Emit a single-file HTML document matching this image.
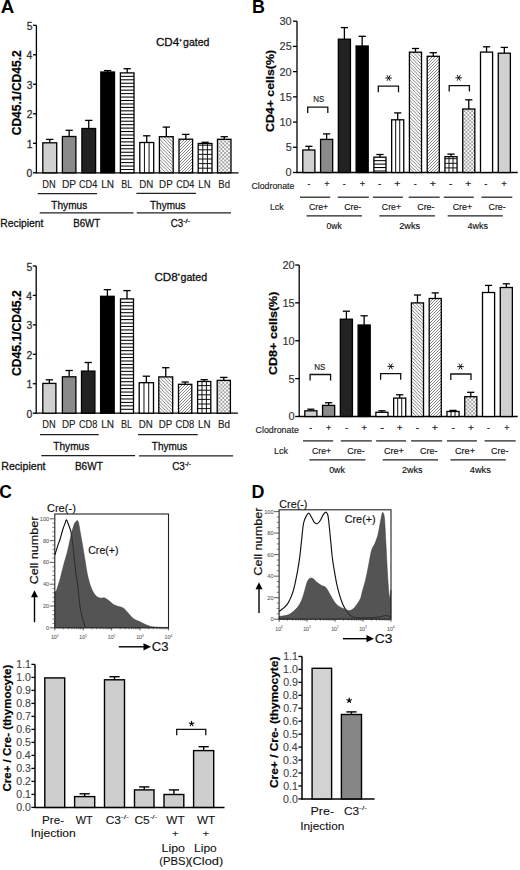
<!DOCTYPE html><html><head><meta charset="utf-8"><style>html,body{margin:0;padding:0;background:#fff;}svg{display:block;}text{font-family:"Liberation Sans",sans-serif;}</style></head><body>
<svg width="520" height="870" viewBox="0 0 520 870">
<defs>
<pattern id="bd" width="3.4" height="3.4" patternUnits="userSpaceOnUse"><rect width="3.4" height="3.4" fill="#fff"/><path d="M-1,-1 L4.4,4.4 M-1,2.4 L1,4.4 M2.4,-1 L4.4,1" stroke="#3a3a3a" stroke-width="0.65"/></pattern>
<pattern id="fd" width="3.0" height="3.0" patternUnits="userSpaceOnUse"><rect width="3" height="3" fill="#fff"/><path d="M-1,4 L4,-1 M-1,1 L1,-1 M2,4 L4,2" stroke="#555" stroke-width="0.7"/></pattern>
<pattern id="gr" width="3.6" height="3.6" patternUnits="userSpaceOnUse"><rect width="3.6" height="3.6" fill="#fff"/><path d="M1.8,0 V3.6 M0,1.8 H3.6" stroke="#111" stroke-width="1"/></pattern>
<pattern id="ch" width="3.8" height="3.8" patternUnits="userSpaceOnUse"><rect width="3.8" height="3.8" fill="#fff"/><rect x="0.25" y="0.25" width="1.4" height="1.4" fill="#555"/><rect x="2.15" y="2.15" width="1.4" height="1.4" fill="#555"/></pattern>
</defs>
<text transform="translate(0.73,12.70) scale(1.0370,1)" font-size="18" font-weight="bold" fill="#000" >A</text>
<text transform="translate(251.94,12.70) scale(0.9937,1)" font-size="18" font-weight="bold" fill="#000" >B</text>
<text transform="translate(-0.70,498.10) scale(0.9669,1)" font-size="18" font-weight="bold" fill="#000" >C</text>
<text transform="translate(251.54,497.70) scale(0.9946,1)" font-size="18" font-weight="bold" fill="#000" >D</text>
<line x1="36.40" y1="173.40" x2="36.40" y2="25.30" stroke="#000" stroke-width="1.3"/>
<line x1="33.00" y1="172.80" x2="36.40" y2="172.80" stroke="#000" stroke-width="1.3"/>
<text transform="translate(26.59,177.40) scale(1.0000,1)" font-size="10.4" fill="#333" stroke="#333" stroke-width="0.3" >0</text>
<line x1="33.00" y1="143.30" x2="36.40" y2="143.30" stroke="#000" stroke-width="1.3"/>
<text transform="translate(26.70,147.90) scale(1.0000,1)" font-size="10.4" fill="#333" stroke="#333" stroke-width="0.3" >1</text>
<line x1="33.00" y1="113.80" x2="36.40" y2="113.80" stroke="#000" stroke-width="1.3"/>
<text transform="translate(26.70,118.40) scale(1.0000,1)" font-size="10.4" fill="#333" stroke="#333" stroke-width="0.3" >2</text>
<line x1="33.00" y1="84.30" x2="36.40" y2="84.30" stroke="#000" stroke-width="1.3"/>
<text transform="translate(26.64,88.90) scale(1.0000,1)" font-size="10.4" fill="#333" stroke="#333" stroke-width="0.3" >3</text>
<line x1="33.00" y1="54.80" x2="36.40" y2="54.80" stroke="#000" stroke-width="1.3"/>
<text transform="translate(26.49,59.40) scale(1.0000,1)" font-size="10.4" fill="#333" stroke="#333" stroke-width="0.3" >4</text>
<line x1="33.00" y1="25.30" x2="36.40" y2="25.30" stroke="#000" stroke-width="1.3"/>
<text transform="translate(26.64,29.90) scale(1.0000,1)" font-size="10.4" fill="#333" stroke="#333" stroke-width="0.3" >5</text>
<line x1="35.80" y1="172.80" x2="238.50" y2="172.80" stroke="#000" stroke-width="1.3"/>
<line x1="49.75" y1="142.80" x2="49.75" y2="139.40" stroke="#000" stroke-width="1.3"/>
<line x1="46.10" y1="139.40" x2="53.40" y2="139.40" stroke="#000" stroke-width="1.3"/>
<rect x="42.80" y="142.80" width="13.90" height="30.00" fill="#d0d0d0" stroke="#000" stroke-width="1.3"/>
<line x1="69.15" y1="136.50" x2="69.15" y2="130.30" stroke="#000" stroke-width="1.3"/>
<line x1="65.50" y1="130.30" x2="72.80" y2="130.30" stroke="#000" stroke-width="1.3"/>
<rect x="62.40" y="136.50" width="13.50" height="36.30" fill="#8a8a8a" stroke="#000" stroke-width="1.3"/>
<line x1="88.75" y1="128.50" x2="88.75" y2="120.40" stroke="#000" stroke-width="1.3"/>
<line x1="85.10" y1="120.40" x2="92.40" y2="120.40" stroke="#000" stroke-width="1.3"/>
<rect x="81.90" y="128.50" width="13.70" height="44.30" fill="#222" stroke="#000" stroke-width="1.3"/>
<line x1="107.65" y1="72.00" x2="107.65" y2="70.60" stroke="#000" stroke-width="1.3"/>
<line x1="104.00" y1="70.60" x2="111.30" y2="70.60" stroke="#000" stroke-width="1.3"/>
<rect x="100.80" y="72.00" width="13.70" height="100.80" fill="#000" stroke="#000" stroke-width="1.3"/>
<line x1="127.20" y1="72.90" x2="127.20" y2="68.70" stroke="#000" stroke-width="1.3"/>
<line x1="123.55" y1="68.70" x2="130.85" y2="68.70" stroke="#000" stroke-width="1.3"/>
<rect x="120.40" y="72.90" width="13.60" height="99.90" fill="#fff" stroke="#000" stroke-width="1.3"/>
<line x1="120.40" y1="76.35" x2="134.00" y2="76.35" stroke="#000" stroke-width="1.05"/>
<line x1="120.40" y1="79.80" x2="134.00" y2="79.80" stroke="#000" stroke-width="1.05"/>
<line x1="120.40" y1="83.25" x2="134.00" y2="83.25" stroke="#000" stroke-width="1.05"/>
<line x1="120.40" y1="86.70" x2="134.00" y2="86.70" stroke="#000" stroke-width="1.05"/>
<line x1="120.40" y1="90.15" x2="134.00" y2="90.15" stroke="#000" stroke-width="1.05"/>
<line x1="120.40" y1="93.60" x2="134.00" y2="93.60" stroke="#000" stroke-width="1.05"/>
<line x1="120.40" y1="97.05" x2="134.00" y2="97.05" stroke="#000" stroke-width="1.05"/>
<line x1="120.40" y1="100.50" x2="134.00" y2="100.50" stroke="#000" stroke-width="1.05"/>
<line x1="120.40" y1="103.95" x2="134.00" y2="103.95" stroke="#000" stroke-width="1.05"/>
<line x1="120.40" y1="107.40" x2="134.00" y2="107.40" stroke="#000" stroke-width="1.05"/>
<line x1="120.40" y1="110.85" x2="134.00" y2="110.85" stroke="#000" stroke-width="1.05"/>
<line x1="120.40" y1="114.30" x2="134.00" y2="114.30" stroke="#000" stroke-width="1.05"/>
<line x1="120.40" y1="117.75" x2="134.00" y2="117.75" stroke="#000" stroke-width="1.05"/>
<line x1="120.40" y1="121.20" x2="134.00" y2="121.20" stroke="#000" stroke-width="1.05"/>
<line x1="120.40" y1="124.65" x2="134.00" y2="124.65" stroke="#000" stroke-width="1.05"/>
<line x1="120.40" y1="128.10" x2="134.00" y2="128.10" stroke="#000" stroke-width="1.05"/>
<line x1="120.40" y1="131.55" x2="134.00" y2="131.55" stroke="#000" stroke-width="1.05"/>
<line x1="120.40" y1="135.00" x2="134.00" y2="135.00" stroke="#000" stroke-width="1.05"/>
<line x1="120.40" y1="138.45" x2="134.00" y2="138.45" stroke="#000" stroke-width="1.05"/>
<line x1="120.40" y1="141.90" x2="134.00" y2="141.90" stroke="#000" stroke-width="1.05"/>
<line x1="120.40" y1="145.35" x2="134.00" y2="145.35" stroke="#000" stroke-width="1.05"/>
<line x1="120.40" y1="148.80" x2="134.00" y2="148.80" stroke="#000" stroke-width="1.05"/>
<line x1="120.40" y1="152.25" x2="134.00" y2="152.25" stroke="#000" stroke-width="1.05"/>
<line x1="120.40" y1="155.70" x2="134.00" y2="155.70" stroke="#000" stroke-width="1.05"/>
<line x1="120.40" y1="159.15" x2="134.00" y2="159.15" stroke="#000" stroke-width="1.05"/>
<line x1="120.40" y1="162.60" x2="134.00" y2="162.60" stroke="#000" stroke-width="1.05"/>
<line x1="120.40" y1="166.05" x2="134.00" y2="166.05" stroke="#000" stroke-width="1.05"/>
<line x1="120.40" y1="169.50" x2="134.00" y2="169.50" stroke="#000" stroke-width="1.05"/>
<line x1="146.75" y1="142.50" x2="146.75" y2="135.80" stroke="#000" stroke-width="1.3"/>
<line x1="143.10" y1="135.80" x2="150.40" y2="135.80" stroke="#000" stroke-width="1.3"/>
<rect x="139.80" y="142.50" width="13.90" height="30.30" fill="#fff" stroke="#000" stroke-width="1.3"/>
<line x1="144.43" y1="142.50" x2="144.43" y2="172.80" stroke="#000" stroke-width="0.95"/>
<line x1="149.07" y1="142.50" x2="149.07" y2="172.80" stroke="#000" stroke-width="0.95"/>
<line x1="166.30" y1="136.70" x2="166.30" y2="127.10" stroke="#000" stroke-width="1.3"/>
<line x1="162.65" y1="127.10" x2="169.95" y2="127.10" stroke="#000" stroke-width="1.3"/>
<rect x="159.40" y="136.70" width="13.80" height="36.10" fill="url(#bd)" stroke="#000" stroke-width="1.3"/>
<line x1="185.80" y1="139.20" x2="185.80" y2="134.40" stroke="#000" stroke-width="1.3"/>
<line x1="182.15" y1="134.40" x2="189.45" y2="134.40" stroke="#000" stroke-width="1.3"/>
<rect x="179.00" y="139.20" width="13.60" height="33.60" fill="url(#fd)" stroke="#000" stroke-width="1.3"/>
<line x1="205.10" y1="143.50" x2="205.10" y2="142.30" stroke="#000" stroke-width="1.3"/>
<line x1="201.45" y1="142.30" x2="208.75" y2="142.30" stroke="#000" stroke-width="1.3"/>
<rect x="198.20" y="143.50" width="13.80" height="29.30" fill="#fff" stroke="#000" stroke-width="1.3"/>
<line x1="202.80" y1="143.50" x2="202.80" y2="172.80" stroke="#111" stroke-width="1.0"/>
<line x1="207.40" y1="143.50" x2="207.40" y2="172.80" stroke="#111" stroke-width="1.0"/>
<line x1="198.20" y1="168.20" x2="212.00" y2="168.20" stroke="#111" stroke-width="1.0"/>
<line x1="198.20" y1="163.60" x2="212.00" y2="163.60" stroke="#111" stroke-width="1.0"/>
<line x1="198.20" y1="159.00" x2="212.00" y2="159.00" stroke="#111" stroke-width="1.0"/>
<line x1="198.20" y1="154.40" x2="212.00" y2="154.40" stroke="#111" stroke-width="1.0"/>
<line x1="198.20" y1="149.80" x2="212.00" y2="149.80" stroke="#111" stroke-width="1.0"/>
<line x1="198.20" y1="145.20" x2="212.00" y2="145.20" stroke="#111" stroke-width="1.0"/>
<line x1="224.25" y1="139.30" x2="224.25" y2="136.70" stroke="#000" stroke-width="1.3"/>
<line x1="220.60" y1="136.70" x2="227.90" y2="136.70" stroke="#000" stroke-width="1.3"/>
<rect x="217.50" y="139.30" width="13.50" height="33.50" fill="url(#ch)" stroke="#000" stroke-width="1.3"/>
<text transform="translate(42.36,187.90) scale(0.8737,1)" font-size="10.6" fill="#222" stroke="#222" stroke-width="0.15" >DN</text>
<text transform="translate(61.93,187.90) scale(0.9659,1)" font-size="10.6" fill="#222" stroke="#222" stroke-width="0.15" >DP</text>
<text transform="translate(78.94,187.90) scale(0.8674,1)" font-size="10.6" fill="#222" stroke="#222" stroke-width="0.15" >CD4</text>
<text transform="translate(101.20,187.90) scale(0.9476,1)" font-size="10.6" fill="#222" stroke="#222" stroke-width="0.15" >LN</text>
<text transform="translate(121.28,187.90) scale(0.8499,1)" font-size="10.6" fill="#222" stroke="#222" stroke-width="0.15" >BL</text>
<text transform="translate(139.32,187.90) scale(0.9177,1)" font-size="10.6" fill="#222" stroke="#222" stroke-width="0.15" >DN</text>
<text transform="translate(159.12,187.90) scale(0.9246,1)" font-size="10.6" fill="#222" stroke="#222" stroke-width="0.15" >DP</text>
<text transform="translate(176.25,187.90) scale(0.8576,1)" font-size="10.6" fill="#222" stroke="#222" stroke-width="0.15" >CD4</text>
<text transform="translate(198.34,187.90) scale(0.9013,1)" font-size="10.6" fill="#222" stroke="#222" stroke-width="0.15" >LN</text>
<text transform="translate(218.34,187.90) scale(0.8997,1)" font-size="10.6" fill="#222" stroke="#222" stroke-width="0.15" >Bd</text>
<line x1="37.75" y1="193.50" x2="97.10" y2="193.50" stroke="#222" stroke-width="1.25"/>
<line x1="136.40" y1="193.30" x2="195.90" y2="193.30" stroke="#222" stroke-width="1.25"/>
<line x1="39.75" y1="212.80" x2="133.50" y2="212.80" stroke="#222" stroke-width="1.25"/>
<line x1="136.75" y1="212.80" x2="231.00" y2="212.80" stroke="#222" stroke-width="1.25"/>
<text transform="translate(51.30,209.00) scale(0.8872,1)" font-size="11.4" fill="#111" stroke="#111" stroke-width="0.3" >Thymus</text>
<text transform="translate(150.00,209.00) scale(0.8772,1)" font-size="11.4" fill="#111" stroke="#111" stroke-width="0.3" >Thymus</text>
<text transform="translate(0.27,227.20) scale(0.9164,1)" font-size="11.3" fill="#111" stroke="#111" stroke-width="0.3" >Recipient</text>
<text transform="translate(73.22,227.20) scale(0.8601,1)" font-size="11.3" fill="#111" stroke="#111" stroke-width="0.3" >B6WT</text>
<text transform="translate(170.81,227.10) scale(0.8588,1)" font-size="11.3" fill="#111" stroke="#111" stroke-width="0.3" >C3</text>
<text transform="translate(183.00,222.50) scale(1.2403,1)" font-size="6.0" fill="#111" stroke="#111" stroke-width="0.3" >-/-</text>
<text transform="translate(155.92,46.25) scale(1.0723,1)" font-size="10.9" fill="#111" stroke="#111" stroke-width="0.3" >CD4</text>
<path d="M179.40,40.25 H181.80 M180.60,38.85 V41.65" stroke="#222" stroke-width="0.8" fill="none"/>
<text transform="translate(183.08,46.25) scale(0.9652,1)" font-size="10.9" fill="#111" stroke="#111" stroke-width="0.3" >gated</text>
<text transform="translate(21.00,135.28) rotate(-90) scale(1.0118,1)" font-size="11.9" font-weight="bold" fill="#000" stroke="#000" stroke-width="0.2">CD45.1/CD45.2</text>
<line x1="36.20" y1="413.80" x2="36.20" y2="265.95" stroke="#000" stroke-width="1.3"/>
<line x1="32.80" y1="413.20" x2="36.20" y2="413.20" stroke="#000" stroke-width="1.3"/>
<text transform="translate(26.39,417.80) scale(1.0000,1)" font-size="10.4" fill="#333" stroke="#333" stroke-width="0.3" >0</text>
<line x1="32.80" y1="383.75" x2="36.20" y2="383.75" stroke="#000" stroke-width="1.3"/>
<text transform="translate(26.50,388.35) scale(1.0000,1)" font-size="10.4" fill="#333" stroke="#333" stroke-width="0.3" >1</text>
<line x1="32.80" y1="354.30" x2="36.20" y2="354.30" stroke="#000" stroke-width="1.3"/>
<text transform="translate(26.50,358.90) scale(1.0000,1)" font-size="10.4" fill="#333" stroke="#333" stroke-width="0.3" >2</text>
<line x1="32.80" y1="324.85" x2="36.20" y2="324.85" stroke="#000" stroke-width="1.3"/>
<text transform="translate(26.44,329.45) scale(1.0000,1)" font-size="10.4" fill="#333" stroke="#333" stroke-width="0.3" >3</text>
<line x1="32.80" y1="295.40" x2="36.20" y2="295.40" stroke="#000" stroke-width="1.3"/>
<text transform="translate(26.29,300.00) scale(1.0000,1)" font-size="10.4" fill="#333" stroke="#333" stroke-width="0.3" >4</text>
<line x1="32.80" y1="265.95" x2="36.20" y2="265.95" stroke="#000" stroke-width="1.3"/>
<text transform="translate(26.44,270.55) scale(1.0000,1)" font-size="10.4" fill="#333" stroke="#333" stroke-width="0.3" >5</text>
<line x1="35.60" y1="413.20" x2="237.90" y2="413.20" stroke="#000" stroke-width="1.3"/>
<line x1="49.35" y1="383.40" x2="49.35" y2="379.80" stroke="#000" stroke-width="1.3"/>
<line x1="45.70" y1="379.80" x2="53.00" y2="379.80" stroke="#000" stroke-width="1.3"/>
<rect x="42.80" y="383.40" width="13.10" height="29.80" fill="#d0d0d0" stroke="#000" stroke-width="1.3"/>
<line x1="69.15" y1="376.80" x2="69.15" y2="370.50" stroke="#000" stroke-width="1.3"/>
<line x1="65.50" y1="370.50" x2="72.80" y2="370.50" stroke="#000" stroke-width="1.3"/>
<rect x="62.40" y="376.80" width="13.50" height="36.40" fill="#8a8a8a" stroke="#000" stroke-width="1.3"/>
<line x1="88.20" y1="371.10" x2="88.20" y2="362.50" stroke="#000" stroke-width="1.3"/>
<line x1="84.55" y1="362.50" x2="91.85" y2="362.50" stroke="#000" stroke-width="1.3"/>
<rect x="81.50" y="371.10" width="13.40" height="42.10" fill="#222" stroke="#000" stroke-width="1.3"/>
<line x1="107.40" y1="296.30" x2="107.40" y2="289.70" stroke="#000" stroke-width="1.3"/>
<line x1="103.75" y1="289.70" x2="111.05" y2="289.70" stroke="#000" stroke-width="1.3"/>
<rect x="100.60" y="296.30" width="13.60" height="116.90" fill="#000" stroke="#000" stroke-width="1.3"/>
<line x1="127.00" y1="298.90" x2="127.00" y2="290.60" stroke="#000" stroke-width="1.3"/>
<line x1="123.35" y1="290.60" x2="130.65" y2="290.60" stroke="#000" stroke-width="1.3"/>
<rect x="120.50" y="298.90" width="13.00" height="114.30" fill="#fff" stroke="#000" stroke-width="1.3"/>
<line x1="120.50" y1="302.35" x2="133.50" y2="302.35" stroke="#000" stroke-width="1.05"/>
<line x1="120.50" y1="305.80" x2="133.50" y2="305.80" stroke="#000" stroke-width="1.05"/>
<line x1="120.50" y1="309.25" x2="133.50" y2="309.25" stroke="#000" stroke-width="1.05"/>
<line x1="120.50" y1="312.70" x2="133.50" y2="312.70" stroke="#000" stroke-width="1.05"/>
<line x1="120.50" y1="316.15" x2="133.50" y2="316.15" stroke="#000" stroke-width="1.05"/>
<line x1="120.50" y1="319.60" x2="133.50" y2="319.60" stroke="#000" stroke-width="1.05"/>
<line x1="120.50" y1="323.05" x2="133.50" y2="323.05" stroke="#000" stroke-width="1.05"/>
<line x1="120.50" y1="326.50" x2="133.50" y2="326.50" stroke="#000" stroke-width="1.05"/>
<line x1="120.50" y1="329.95" x2="133.50" y2="329.95" stroke="#000" stroke-width="1.05"/>
<line x1="120.50" y1="333.40" x2="133.50" y2="333.40" stroke="#000" stroke-width="1.05"/>
<line x1="120.50" y1="336.85" x2="133.50" y2="336.85" stroke="#000" stroke-width="1.05"/>
<line x1="120.50" y1="340.30" x2="133.50" y2="340.30" stroke="#000" stroke-width="1.05"/>
<line x1="120.50" y1="343.75" x2="133.50" y2="343.75" stroke="#000" stroke-width="1.05"/>
<line x1="120.50" y1="347.20" x2="133.50" y2="347.20" stroke="#000" stroke-width="1.05"/>
<line x1="120.50" y1="350.65" x2="133.50" y2="350.65" stroke="#000" stroke-width="1.05"/>
<line x1="120.50" y1="354.10" x2="133.50" y2="354.10" stroke="#000" stroke-width="1.05"/>
<line x1="120.50" y1="357.55" x2="133.50" y2="357.55" stroke="#000" stroke-width="1.05"/>
<line x1="120.50" y1="361.00" x2="133.50" y2="361.00" stroke="#000" stroke-width="1.05"/>
<line x1="120.50" y1="364.45" x2="133.50" y2="364.45" stroke="#000" stroke-width="1.05"/>
<line x1="120.50" y1="367.90" x2="133.50" y2="367.90" stroke="#000" stroke-width="1.05"/>
<line x1="120.50" y1="371.35" x2="133.50" y2="371.35" stroke="#000" stroke-width="1.05"/>
<line x1="120.50" y1="374.80" x2="133.50" y2="374.80" stroke="#000" stroke-width="1.05"/>
<line x1="120.50" y1="378.25" x2="133.50" y2="378.25" stroke="#000" stroke-width="1.05"/>
<line x1="120.50" y1="381.70" x2="133.50" y2="381.70" stroke="#000" stroke-width="1.05"/>
<line x1="120.50" y1="385.15" x2="133.50" y2="385.15" stroke="#000" stroke-width="1.05"/>
<line x1="120.50" y1="388.60" x2="133.50" y2="388.60" stroke="#000" stroke-width="1.05"/>
<line x1="120.50" y1="392.05" x2="133.50" y2="392.05" stroke="#000" stroke-width="1.05"/>
<line x1="120.50" y1="395.50" x2="133.50" y2="395.50" stroke="#000" stroke-width="1.05"/>
<line x1="120.50" y1="398.95" x2="133.50" y2="398.95" stroke="#000" stroke-width="1.05"/>
<line x1="120.50" y1="402.40" x2="133.50" y2="402.40" stroke="#000" stroke-width="1.05"/>
<line x1="120.50" y1="405.85" x2="133.50" y2="405.85" stroke="#000" stroke-width="1.05"/>
<line x1="120.50" y1="409.30" x2="133.50" y2="409.30" stroke="#000" stroke-width="1.05"/>
<line x1="146.35" y1="382.70" x2="146.35" y2="376.20" stroke="#000" stroke-width="1.3"/>
<line x1="142.70" y1="376.20" x2="150.00" y2="376.20" stroke="#000" stroke-width="1.3"/>
<rect x="139.20" y="382.70" width="14.30" height="30.50" fill="#fff" stroke="#000" stroke-width="1.3"/>
<line x1="143.97" y1="382.70" x2="143.97" y2="413.20" stroke="#000" stroke-width="0.95"/>
<line x1="148.73" y1="382.70" x2="148.73" y2="413.20" stroke="#000" stroke-width="0.95"/>
<line x1="165.75" y1="376.90" x2="165.75" y2="367.70" stroke="#000" stroke-width="1.3"/>
<line x1="162.10" y1="367.70" x2="169.40" y2="367.70" stroke="#000" stroke-width="1.3"/>
<rect x="158.80" y="376.90" width="13.90" height="36.30" fill="url(#bd)" stroke="#000" stroke-width="1.3"/>
<line x1="185.15" y1="384.30" x2="185.15" y2="382.00" stroke="#000" stroke-width="1.3"/>
<line x1="181.50" y1="382.00" x2="188.80" y2="382.00" stroke="#000" stroke-width="1.3"/>
<rect x="178.50" y="384.30" width="13.30" height="28.90" fill="url(#fd)" stroke="#000" stroke-width="1.3"/>
<line x1="204.20" y1="381.50" x2="204.20" y2="379.70" stroke="#000" stroke-width="1.3"/>
<line x1="200.55" y1="379.70" x2="207.85" y2="379.70" stroke="#000" stroke-width="1.3"/>
<rect x="197.60" y="381.50" width="13.20" height="31.70" fill="#fff" stroke="#000" stroke-width="1.3"/>
<line x1="202.00" y1="381.50" x2="202.00" y2="413.20" stroke="#111" stroke-width="1.0"/>
<line x1="206.40" y1="381.50" x2="206.40" y2="413.20" stroke="#111" stroke-width="1.0"/>
<line x1="197.60" y1="408.60" x2="210.80" y2="408.60" stroke="#111" stroke-width="1.0"/>
<line x1="197.60" y1="404.00" x2="210.80" y2="404.00" stroke="#111" stroke-width="1.0"/>
<line x1="197.60" y1="399.40" x2="210.80" y2="399.40" stroke="#111" stroke-width="1.0"/>
<line x1="197.60" y1="394.80" x2="210.80" y2="394.80" stroke="#111" stroke-width="1.0"/>
<line x1="197.60" y1="390.20" x2="210.80" y2="390.20" stroke="#111" stroke-width="1.0"/>
<line x1="197.60" y1="385.60" x2="210.80" y2="385.60" stroke="#111" stroke-width="1.0"/>
<line x1="223.80" y1="380.40" x2="223.80" y2="377.40" stroke="#000" stroke-width="1.3"/>
<line x1="220.15" y1="377.40" x2="227.45" y2="377.40" stroke="#000" stroke-width="1.3"/>
<rect x="217.20" y="380.40" width="13.20" height="32.80" fill="url(#ch)" stroke="#000" stroke-width="1.3"/>
<text transform="translate(42.36,428.30) scale(0.8737,1)" font-size="10.6" fill="#222" stroke="#222" stroke-width="0.15" >DN</text>
<text transform="translate(61.97,428.30) scale(0.9208,1)" font-size="10.6" fill="#222" stroke="#222" stroke-width="0.15" >DP</text>
<text transform="translate(78.94,428.30) scale(0.8742,1)" font-size="10.6" fill="#222" stroke="#222" stroke-width="0.15" >CD8</text>
<text transform="translate(101.20,428.30) scale(0.9476,1)" font-size="10.6" fill="#222" stroke="#222" stroke-width="0.15" >LN</text>
<text transform="translate(121.03,428.30) scale(0.8499,1)" font-size="10.6" fill="#222" stroke="#222" stroke-width="0.15" >BL</text>
<text transform="translate(138.72,428.30) scale(0.9177,1)" font-size="10.6" fill="#222" stroke="#222" stroke-width="0.15" >DN</text>
<text transform="translate(158.82,428.30) scale(0.9171,1)" font-size="10.6" fill="#222" stroke="#222" stroke-width="0.15" >DP</text>
<text transform="translate(175.43,428.30) scale(0.8891,1)" font-size="10.6" fill="#222" stroke="#222" stroke-width="0.15" >CD8</text>
<text transform="translate(198.01,428.30) scale(0.9265,1)" font-size="10.6" fill="#222" stroke="#222" stroke-width="0.15" >LN</text>
<text transform="translate(217.91,428.30) scale(0.9347,1)" font-size="10.6" fill="#222" stroke="#222" stroke-width="0.15" >Bd</text>
<line x1="40.00" y1="434.60" x2="98.75" y2="434.60" stroke="#222" stroke-width="1.25"/>
<line x1="138.00" y1="434.60" x2="197.80" y2="434.60" stroke="#222" stroke-width="1.25"/>
<line x1="41.30" y1="455.70" x2="135.10" y2="455.70" stroke="#222" stroke-width="1.25"/>
<line x1="138.90" y1="455.80" x2="233.10" y2="455.80" stroke="#222" stroke-width="1.25"/>
<text transform="translate(53.30,450.20) scale(0.8897,1)" font-size="11.4" fill="#111" stroke="#111" stroke-width="0.3" >Thymus</text>
<text transform="translate(151.80,450.40) scale(0.8747,1)" font-size="11.4" fill="#111" stroke="#111" stroke-width="0.3" >Thymus</text>
<text transform="translate(1.25,470.40) scale(0.9402,1)" font-size="11.3" fill="#111" stroke="#111" stroke-width="0.3" >Recipient</text>
<text transform="translate(74.90,470.30) scale(0.8899,1)" font-size="11.3" fill="#111" stroke="#111" stroke-width="0.3" >B6WT</text>
<text transform="translate(172.21,470.20) scale(0.8738,1)" font-size="11.3" fill="#111" stroke="#111" stroke-width="0.3" >C3</text>
<text transform="translate(184.63,465.60) scale(1.1047,1)" font-size="6.0" fill="#111" stroke="#111" stroke-width="0.3" >-/-</text>
<text transform="translate(154.42,280.60) scale(1.0687,1)" font-size="10.9" fill="#111" stroke="#111" stroke-width="0.3" >CD8</text>
<path d="M177.65,274.60 H180.05 M178.85,273.20 V276.00" stroke="#222" stroke-width="0.8" fill="none"/>
<text transform="translate(180.57,280.60) scale(0.9748,1)" font-size="10.9" fill="#111" stroke="#111" stroke-width="0.3" >gated</text>
<text transform="translate(21.00,375.99) rotate(-90) scale(1.0202,1)" font-size="11.9" font-weight="bold" fill="#000" stroke="#000" stroke-width="0.2">CD45.1/CD45.2</text>
<line x1="297.00" y1="173.10" x2="297.00" y2="21.21" stroke="#000" stroke-width="1.3"/>
<line x1="293.00" y1="172.50" x2="297.00" y2="172.50" stroke="#000" stroke-width="1.3"/>
<text transform="translate(285.58,176.40) scale(1.0000,1)" font-size="11.0" fill="#333" stroke="#333" stroke-width="0.15" >0</text>
<line x1="293.00" y1="147.28" x2="297.00" y2="147.28" stroke="#000" stroke-width="1.3"/>
<text transform="translate(285.63,151.19) scale(1.0000,1)" font-size="11.0" fill="#333" stroke="#333" stroke-width="0.15" >5</text>
<line x1="293.00" y1="122.07" x2="297.00" y2="122.07" stroke="#000" stroke-width="1.3"/>
<text transform="translate(279.48,125.97) scale(1.0000,1)" font-size="11.0" fill="#333" stroke="#333" stroke-width="0.15" >10</text>
<line x1="293.00" y1="96.86" x2="297.00" y2="96.86" stroke="#000" stroke-width="1.3"/>
<text transform="translate(279.53,100.76) scale(1.0000,1)" font-size="11.0" fill="#333" stroke="#333" stroke-width="0.15" >15</text>
<line x1="293.00" y1="71.64" x2="297.00" y2="71.64" stroke="#000" stroke-width="1.3"/>
<text transform="translate(279.48,75.54) scale(1.0000,1)" font-size="11.0" fill="#333" stroke="#333" stroke-width="0.15" >20</text>
<line x1="293.00" y1="46.42" x2="297.00" y2="46.42" stroke="#000" stroke-width="1.3"/>
<text transform="translate(279.53,50.32) scale(1.0000,1)" font-size="11.0" fill="#333" stroke="#333" stroke-width="0.15" >25</text>
<line x1="293.00" y1="21.21" x2="297.00" y2="21.21" stroke="#000" stroke-width="1.3"/>
<text transform="translate(279.48,25.11) scale(1.0000,1)" font-size="11.0" fill="#333" stroke="#333" stroke-width="0.15" >30</text>
<line x1="296.40" y1="172.50" x2="517.70" y2="172.50" stroke="#000" stroke-width="1.3"/>
<line x1="308.85" y1="150.00" x2="308.85" y2="146.30" stroke="#000" stroke-width="1.3"/>
<line x1="305.25" y1="146.30" x2="312.45" y2="146.30" stroke="#000" stroke-width="1.3"/>
<rect x="302.80" y="150.00" width="12.10" height="22.50" fill="#d0d0d0" stroke="#000" stroke-width="1.3"/>
<line x1="326.62" y1="139.40" x2="326.62" y2="133.90" stroke="#000" stroke-width="1.3"/>
<line x1="323.02" y1="133.90" x2="330.22" y2="133.90" stroke="#000" stroke-width="1.3"/>
<rect x="320.57" y="139.40" width="12.10" height="33.10" fill="#8a8a8a" stroke="#000" stroke-width="1.3"/>
<line x1="344.39" y1="39.20" x2="344.39" y2="27.60" stroke="#000" stroke-width="1.3"/>
<line x1="340.79" y1="27.60" x2="347.99" y2="27.60" stroke="#000" stroke-width="1.3"/>
<rect x="338.34" y="39.20" width="12.10" height="133.30" fill="#222" stroke="#000" stroke-width="1.3"/>
<line x1="362.16" y1="46.00" x2="362.16" y2="36.30" stroke="#000" stroke-width="1.3"/>
<line x1="358.56" y1="36.30" x2="365.76" y2="36.30" stroke="#000" stroke-width="1.3"/>
<rect x="356.11" y="46.00" width="12.10" height="126.50" fill="#000" stroke="#000" stroke-width="1.3"/>
<line x1="379.93" y1="157.20" x2="379.93" y2="154.50" stroke="#000" stroke-width="1.3"/>
<line x1="376.33" y1="154.50" x2="383.53" y2="154.50" stroke="#000" stroke-width="1.3"/>
<rect x="373.88" y="157.20" width="12.10" height="15.30" fill="#fff" stroke="#000" stroke-width="1.3"/>
<line x1="373.88" y1="160.65" x2="385.98" y2="160.65" stroke="#000" stroke-width="1.05"/>
<line x1="373.88" y1="164.10" x2="385.98" y2="164.10" stroke="#000" stroke-width="1.05"/>
<line x1="373.88" y1="167.55" x2="385.98" y2="167.55" stroke="#000" stroke-width="1.05"/>
<line x1="373.88" y1="171.00" x2="385.98" y2="171.00" stroke="#000" stroke-width="1.05"/>
<line x1="397.70" y1="119.80" x2="397.70" y2="112.90" stroke="#000" stroke-width="1.3"/>
<line x1="394.10" y1="112.90" x2="401.30" y2="112.90" stroke="#000" stroke-width="1.3"/>
<rect x="391.65" y="119.80" width="12.10" height="52.70" fill="#fff" stroke="#000" stroke-width="1.3"/>
<line x1="395.68" y1="119.80" x2="395.68" y2="172.50" stroke="#000" stroke-width="0.95"/>
<line x1="399.72" y1="119.80" x2="399.72" y2="172.50" stroke="#000" stroke-width="0.95"/>
<line x1="415.47" y1="52.20" x2="415.47" y2="48.50" stroke="#000" stroke-width="1.3"/>
<line x1="411.87" y1="48.50" x2="419.07" y2="48.50" stroke="#000" stroke-width="1.3"/>
<rect x="409.42" y="52.20" width="12.10" height="120.30" fill="url(#bd)" stroke="#000" stroke-width="1.3"/>
<line x1="433.24" y1="56.30" x2="433.24" y2="52.70" stroke="#000" stroke-width="1.3"/>
<line x1="429.64" y1="52.70" x2="436.84" y2="52.70" stroke="#000" stroke-width="1.3"/>
<rect x="427.19" y="56.30" width="12.10" height="116.20" fill="url(#fd)" stroke="#000" stroke-width="1.3"/>
<line x1="451.01" y1="156.70" x2="451.01" y2="154.10" stroke="#000" stroke-width="1.3"/>
<line x1="447.41" y1="154.10" x2="454.61" y2="154.10" stroke="#000" stroke-width="1.3"/>
<rect x="444.96" y="156.70" width="12.10" height="15.80" fill="#fff" stroke="#000" stroke-width="1.3"/>
<line x1="448.99" y1="156.70" x2="448.99" y2="172.50" stroke="#111" stroke-width="1.0"/>
<line x1="453.03" y1="156.70" x2="453.03" y2="172.50" stroke="#111" stroke-width="1.0"/>
<line x1="444.96" y1="167.90" x2="457.06" y2="167.90" stroke="#111" stroke-width="1.0"/>
<line x1="444.96" y1="163.30" x2="457.06" y2="163.30" stroke="#111" stroke-width="1.0"/>
<line x1="444.96" y1="158.70" x2="457.06" y2="158.70" stroke="#111" stroke-width="1.0"/>
<line x1="468.78" y1="109.00" x2="468.78" y2="99.80" stroke="#000" stroke-width="1.3"/>
<line x1="465.18" y1="99.80" x2="472.38" y2="99.80" stroke="#000" stroke-width="1.3"/>
<rect x="462.73" y="109.00" width="12.10" height="63.50" fill="url(#ch)" stroke="#000" stroke-width="1.3"/>
<line x1="486.55" y1="52.10" x2="486.55" y2="46.80" stroke="#000" stroke-width="1.3"/>
<line x1="482.95" y1="46.80" x2="490.15" y2="46.80" stroke="#000" stroke-width="1.3"/>
<rect x="480.50" y="52.10" width="12.10" height="120.40" fill="#fff" stroke="#000" stroke-width="1.3"/>
<line x1="504.32" y1="53.20" x2="504.32" y2="47.40" stroke="#000" stroke-width="1.3"/>
<line x1="500.72" y1="47.40" x2="507.92" y2="47.40" stroke="#000" stroke-width="1.3"/>
<rect x="498.27" y="53.20" width="12.10" height="119.30" fill="#d0d0d0" stroke="#000" stroke-width="1.3"/>
<path d="M307.7,113.1 V107.1 H327.8 V113.1" fill="none" stroke="#111" stroke-width="1.3"/>
<text transform="translate(313.17,102.20) scale(0.8983,1)" font-size="8.8" fill="#222" stroke="#222" stroke-width="0.15" >NS</text>
<path d="M378.3,92.2 V86.2 H398.5 V92.2" fill="none" stroke="#111" stroke-width="1.3"/>
<path d="M385.30,78.00 L391.90,78.00 M386.95,75.14 L390.25,80.86 M390.25,75.14 L386.95,80.86 " stroke="#000" stroke-width="0.9" fill="none"/>
<path d="M449.2,91.6 V85.6 H469.4 V91.6" fill="none" stroke="#111" stroke-width="1.3"/>
<path d="M455.40,77.80 L462.00,77.80 M457.05,74.94 L460.35,80.66 M460.35,74.94 L457.05,80.66 " stroke="#000" stroke-width="0.9" fill="none"/>
<text transform="translate(251.46,189.00) scale(0.9136,1)" font-size="9.6" fill="#222" stroke="#222" stroke-width="0.15" >Clodronate</text>
<text transform="translate(307.56,186.70) scale(0.9130,1)" font-size="9.2" fill="#111" stroke="#111" stroke-width="0.15" >-</text>
<text transform="translate(324.19,187.30) scale(0.9982,1)" font-size="9.2" fill="#111" stroke="#111" stroke-width="0.15" >+</text>
<text transform="translate(342.85,186.70) scale(0.9565,1)" font-size="9.2" fill="#111" stroke="#111" stroke-width="0.15" >-</text>
<text transform="translate(359.78,187.30) scale(1.0204,1)" font-size="9.2" fill="#111" stroke="#111" stroke-width="0.15" >+</text>
<text transform="translate(378.02,186.70) scale(1.0435,1)" font-size="9.2" fill="#111" stroke="#111" stroke-width="0.15" >-</text>
<text transform="translate(394.33,187.30) scale(1.1313,1)" font-size="9.2" fill="#111" stroke="#111" stroke-width="0.15" >+</text>
<text transform="translate(413.65,186.70) scale(0.9565,1)" font-size="9.2" fill="#111" stroke="#111" stroke-width="0.15" >-</text>
<text transform="translate(429.81,187.30) scale(1.1757,1)" font-size="9.2" fill="#111" stroke="#111" stroke-width="0.15" >+</text>
<text transform="translate(449.10,186.70) scale(1.0870,1)" font-size="9.2" fill="#111" stroke="#111" stroke-width="0.15" >-</text>
<text transform="translate(465.34,187.30) scale(1.1091,1)" font-size="9.2" fill="#111" stroke="#111" stroke-width="0.15" >+</text>
<text transform="translate(484.23,186.70) scale(1.0000,1)" font-size="9.2" fill="#111" stroke="#111" stroke-width="0.15" >-</text>
<text transform="translate(501.37,187.30) scale(1.0426,1)" font-size="9.2" fill="#111" stroke="#111" stroke-width="0.15" >+</text>
<line x1="300.00" y1="197.20" x2="330.20" y2="197.20" stroke="#222" stroke-width="1.25"/>
<line x1="337.70" y1="197.20" x2="368.80" y2="197.20" stroke="#222" stroke-width="1.25"/>
<line x1="372.90" y1="197.20" x2="402.90" y2="197.20" stroke="#222" stroke-width="1.25"/>
<line x1="408.70" y1="197.20" x2="439.70" y2="197.20" stroke="#222" stroke-width="1.25"/>
<line x1="443.80" y1="197.20" x2="473.80" y2="197.20" stroke="#222" stroke-width="1.25"/>
<line x1="481.50" y1="197.20" x2="512.30" y2="197.20" stroke="#222" stroke-width="1.25"/>
<text transform="translate(269.89,209.90) scale(0.9066,1)" font-size="9.8" fill="#222" stroke="#222" stroke-width="0.15" >Lck</text>
<text transform="translate(308.96,209.90) scale(0.9195,1)" font-size="9.5" fill="#111" stroke="#111" stroke-width="0.15" >Cre+</text>
<text transform="translate(344.16,209.90) scale(0.9275,1)" font-size="9.5" fill="#111" stroke="#111" stroke-width="0.15" >Cre-</text>
<text transform="translate(381.86,209.90) scale(0.9195,1)" font-size="9.5" fill="#111" stroke="#111" stroke-width="0.15" >Cre+</text>
<text transform="translate(417.15,209.90) scale(0.9445,1)" font-size="9.5" fill="#111" stroke="#111" stroke-width="0.15" >Cre-</text>
<text transform="translate(452.65,209.90) scale(0.9396,1)" font-size="9.5" fill="#111" stroke="#111" stroke-width="0.15" >Cre+</text>
<text transform="translate(488.45,209.90) scale(0.9388,1)" font-size="9.5" fill="#111" stroke="#111" stroke-width="0.15" >Cre-</text>
<line x1="306.60" y1="215.90" x2="362.00" y2="215.90" stroke="#222" stroke-width="1.25"/>
<line x1="379.40" y1="215.90" x2="434.90" y2="215.90" stroke="#222" stroke-width="1.25"/>
<line x1="447.70" y1="215.90" x2="502.80" y2="215.90" stroke="#222" stroke-width="1.25"/>
<text transform="translate(326.40,229.20) scale(0.9278,1)" font-size="9.3" fill="#111" stroke="#111" stroke-width="0.15" >0wk</text>
<text transform="translate(399.14,229.20) scale(0.9895,1)" font-size="9.3" fill="#111" stroke="#111" stroke-width="0.15" >2wks</text>
<text transform="translate(467.52,229.20) scale(0.9665,1)" font-size="9.3" fill="#111" stroke="#111" stroke-width="0.15" >4wks</text>
<text transform="translate(273.60,131.99) rotate(-90) scale(1.1033,1)" font-size="11.2" font-weight="bold" fill="#000" stroke="#000" stroke-width="0.2">CD4+ cells(%)</text>
<line x1="299.20" y1="417.10" x2="299.20" y2="265.00" stroke="#000" stroke-width="1.3"/>
<line x1="295.20" y1="416.50" x2="299.20" y2="416.50" stroke="#000" stroke-width="1.3"/>
<text transform="translate(288.48,420.40) scale(1.0000,1)" font-size="11.0" fill="#333" stroke="#333" stroke-width="0.15" >0</text>
<line x1="295.20" y1="378.62" x2="299.20" y2="378.62" stroke="#000" stroke-width="1.3"/>
<text transform="translate(288.53,382.52) scale(1.0000,1)" font-size="11.0" fill="#333" stroke="#333" stroke-width="0.15" >5</text>
<line x1="295.20" y1="340.75" x2="299.20" y2="340.75" stroke="#000" stroke-width="1.3"/>
<text transform="translate(282.38,344.65) scale(1.0000,1)" font-size="11.0" fill="#333" stroke="#333" stroke-width="0.15" >10</text>
<line x1="295.20" y1="302.88" x2="299.20" y2="302.88" stroke="#000" stroke-width="1.3"/>
<text transform="translate(282.43,306.77) scale(1.0000,1)" font-size="11.0" fill="#333" stroke="#333" stroke-width="0.15" >15</text>
<line x1="295.20" y1="265.00" x2="299.20" y2="265.00" stroke="#000" stroke-width="1.3"/>
<text transform="translate(282.38,268.90) scale(1.0000,1)" font-size="11.0" fill="#333" stroke="#333" stroke-width="0.15" >20</text>
<line x1="298.60" y1="416.50" x2="517.70" y2="416.50" stroke="#000" stroke-width="1.3"/>
<line x1="310.85" y1="410.80" x2="310.85" y2="409.20" stroke="#000" stroke-width="1.3"/>
<line x1="307.25" y1="409.20" x2="314.45" y2="409.20" stroke="#000" stroke-width="1.3"/>
<rect x="304.80" y="410.80" width="12.10" height="5.70" fill="#d0d0d0" stroke="#000" stroke-width="1.3"/>
<line x1="328.62" y1="405.40" x2="328.62" y2="402.70" stroke="#000" stroke-width="1.3"/>
<line x1="325.02" y1="402.70" x2="332.22" y2="402.70" stroke="#000" stroke-width="1.3"/>
<rect x="322.57" y="405.40" width="12.10" height="11.10" fill="#8a8a8a" stroke="#000" stroke-width="1.3"/>
<line x1="346.39" y1="319.20" x2="346.39" y2="311.20" stroke="#000" stroke-width="1.3"/>
<line x1="342.79" y1="311.20" x2="349.99" y2="311.20" stroke="#000" stroke-width="1.3"/>
<rect x="340.34" y="319.20" width="12.10" height="97.30" fill="#222" stroke="#000" stroke-width="1.3"/>
<line x1="364.16" y1="325.00" x2="364.16" y2="315.80" stroke="#000" stroke-width="1.3"/>
<line x1="360.56" y1="315.80" x2="367.76" y2="315.80" stroke="#000" stroke-width="1.3"/>
<rect x="358.11" y="325.00" width="12.10" height="91.50" fill="#000" stroke="#000" stroke-width="1.3"/>
<line x1="381.93" y1="412.30" x2="381.93" y2="410.80" stroke="#000" stroke-width="1.3"/>
<line x1="378.33" y1="410.80" x2="385.53" y2="410.80" stroke="#000" stroke-width="1.3"/>
<rect x="375.88" y="412.30" width="12.10" height="4.20" fill="#fff" stroke="#000" stroke-width="1.3"/>
<line x1="399.70" y1="398.10" x2="399.70" y2="394.80" stroke="#000" stroke-width="1.3"/>
<line x1="396.10" y1="394.80" x2="403.30" y2="394.80" stroke="#000" stroke-width="1.3"/>
<rect x="393.65" y="398.10" width="12.10" height="18.40" fill="#fff" stroke="#000" stroke-width="1.3"/>
<line x1="397.68" y1="398.10" x2="397.68" y2="416.50" stroke="#000" stroke-width="0.95"/>
<line x1="401.72" y1="398.10" x2="401.72" y2="416.50" stroke="#000" stroke-width="0.95"/>
<line x1="417.47" y1="302.90" x2="417.47" y2="295.00" stroke="#000" stroke-width="1.3"/>
<line x1="413.87" y1="295.00" x2="421.07" y2="295.00" stroke="#000" stroke-width="1.3"/>
<rect x="411.42" y="302.90" width="12.10" height="113.60" fill="url(#bd)" stroke="#000" stroke-width="1.3"/>
<line x1="435.24" y1="298.50" x2="435.24" y2="292.90" stroke="#000" stroke-width="1.3"/>
<line x1="431.64" y1="292.90" x2="438.84" y2="292.90" stroke="#000" stroke-width="1.3"/>
<rect x="429.19" y="298.50" width="12.10" height="118.00" fill="url(#fd)" stroke="#000" stroke-width="1.3"/>
<line x1="453.01" y1="411.50" x2="453.01" y2="410.40" stroke="#000" stroke-width="1.3"/>
<line x1="449.41" y1="410.40" x2="456.61" y2="410.40" stroke="#000" stroke-width="1.3"/>
<rect x="446.96" y="411.50" width="12.10" height="5.00" fill="#fff" stroke="#000" stroke-width="1.3"/>
<line x1="450.99" y1="411.50" x2="450.99" y2="416.50" stroke="#111" stroke-width="1.0"/>
<line x1="455.03" y1="411.50" x2="455.03" y2="416.50" stroke="#111" stroke-width="1.0"/>
<line x1="470.78" y1="396.70" x2="470.78" y2="392.30" stroke="#000" stroke-width="1.3"/>
<line x1="467.18" y1="392.30" x2="474.38" y2="392.30" stroke="#000" stroke-width="1.3"/>
<rect x="464.73" y="396.70" width="12.10" height="19.80" fill="url(#ch)" stroke="#000" stroke-width="1.3"/>
<line x1="488.55" y1="292.50" x2="488.55" y2="285.40" stroke="#000" stroke-width="1.3"/>
<line x1="484.95" y1="285.40" x2="492.15" y2="285.40" stroke="#000" stroke-width="1.3"/>
<rect x="482.50" y="292.50" width="12.10" height="124.00" fill="#fff" stroke="#000" stroke-width="1.3"/>
<line x1="506.32" y1="287.50" x2="506.32" y2="283.80" stroke="#000" stroke-width="1.3"/>
<line x1="502.72" y1="283.80" x2="509.92" y2="283.80" stroke="#000" stroke-width="1.3"/>
<rect x="500.27" y="287.50" width="12.10" height="129.00" fill="#d0d0d0" stroke="#000" stroke-width="1.3"/>
<path d="M310.1,380.5 V374.5 H330.6 V380.5" fill="none" stroke="#111" stroke-width="1.3"/>
<text transform="translate(314.25,370.20) scale(0.9163,1)" font-size="8.8" fill="#222" stroke="#222" stroke-width="0.15" >NS</text>
<path d="M380.6,379.7 V373.7 H400.7 V379.7" fill="none" stroke="#111" stroke-width="1.3"/>
<path d="M387.40,366.40 L394.00,366.40 M389.05,363.54 L392.35,369.26 M392.35,363.54 L389.05,369.26 " stroke="#000" stroke-width="0.9" fill="none"/>
<path d="M450.8,380.0 V374.0 H471.0 V380.0" fill="none" stroke="#111" stroke-width="1.3"/>
<path d="M457.20,366.60 L463.80,366.60 M458.85,363.74 L462.15,369.46 M462.15,363.74 L458.85,369.46 " stroke="#000" stroke-width="0.9" fill="none"/>
<text transform="translate(255.56,432.75) scale(0.9223,1)" font-size="9.6" fill="#222" stroke="#222" stroke-width="0.15" >Clodronate</text>
<text transform="translate(309.36,430.60) scale(0.9130,1)" font-size="9.2" fill="#111" stroke="#111" stroke-width="0.15" >-</text>
<text transform="translate(325.90,431.20) scale(0.9760,1)" font-size="9.2" fill="#111" stroke="#111" stroke-width="0.15" >+</text>
<text transform="translate(345.36,430.60) scale(0.9130,1)" font-size="9.2" fill="#111" stroke="#111" stroke-width="0.15" >-</text>
<text transform="translate(361.48,431.20) scale(1.0204,1)" font-size="9.2" fill="#111" stroke="#111" stroke-width="0.15" >+</text>
<text transform="translate(380.34,430.60) scale(1.2609,1)" font-size="9.2" fill="#111" stroke="#111" stroke-width="0.15" >-</text>
<text transform="translate(396.65,431.20) scale(1.0870,1)" font-size="9.2" fill="#111" stroke="#111" stroke-width="0.15" >+</text>
<text transform="translate(415.78,430.60) scale(1.1304,1)" font-size="9.2" fill="#111" stroke="#111" stroke-width="0.15" >-</text>
<text transform="translate(431.82,431.20) scale(1.1535,1)" font-size="9.2" fill="#111" stroke="#111" stroke-width="0.15" >+</text>
<text transform="translate(451.58,430.60) scale(1.1304,1)" font-size="9.2" fill="#111" stroke="#111" stroke-width="0.15" >-</text>
<text transform="translate(468.04,431.20) scale(1.1091,1)" font-size="9.2" fill="#111" stroke="#111" stroke-width="0.15" >+</text>
<text transform="translate(487.06,430.60) scale(0.9130,1)" font-size="9.2" fill="#111" stroke="#111" stroke-width="0.15" >-</text>
<text transform="translate(504.21,431.20) scale(0.9539,1)" font-size="9.2" fill="#111" stroke="#111" stroke-width="0.15" >+</text>
<line x1="303.00" y1="440.90" x2="333.20" y2="440.90" stroke="#222" stroke-width="1.25"/>
<line x1="340.80" y1="440.90" x2="371.80" y2="440.90" stroke="#222" stroke-width="1.25"/>
<line x1="376.10" y1="440.90" x2="406.10" y2="440.90" stroke="#222" stroke-width="1.25"/>
<line x1="411.10" y1="440.90" x2="442.20" y2="440.90" stroke="#222" stroke-width="1.25"/>
<line x1="446.90" y1="440.90" x2="476.90" y2="440.90" stroke="#222" stroke-width="1.25"/>
<line x1="484.60" y1="440.90" x2="515.70" y2="440.90" stroke="#222" stroke-width="1.25"/>
<text transform="translate(274.03,453.75) scale(0.9204,1)" font-size="9.8" fill="#222" stroke="#222" stroke-width="0.15" >Lck</text>
<text transform="translate(312.07,453.50) scale(0.9145,1)" font-size="9.5" fill="#111" stroke="#111" stroke-width="0.15" >Cre+</text>
<text transform="translate(347.35,453.50) scale(0.9445,1)" font-size="9.5" fill="#111" stroke="#111" stroke-width="0.15" >Cre-</text>
<text transform="translate(383.94,453.50) scale(0.9597,1)" font-size="9.5" fill="#111" stroke="#111" stroke-width="0.15" >Cre+</text>
<text transform="translate(420.05,453.50) scale(0.9445,1)" font-size="9.5" fill="#111" stroke="#111" stroke-width="0.15" >Cre-</text>
<text transform="translate(454.94,453.50) scale(0.9647,1)" font-size="9.5" fill="#111" stroke="#111" stroke-width="0.15" >Cre+</text>
<text transform="translate(491.05,453.50) scale(0.9388,1)" font-size="9.5" fill="#111" stroke="#111" stroke-width="0.15" >Cre-</text>
<line x1="309.40" y1="459.80" x2="365.40" y2="459.80" stroke="#222" stroke-width="1.25"/>
<line x1="382.70" y1="459.80" x2="438.10" y2="459.80" stroke="#222" stroke-width="1.25"/>
<line x1="450.50" y1="459.80" x2="505.80" y2="459.80" stroke="#222" stroke-width="1.25"/>
<text transform="translate(329.19,472.90) scale(0.9524,1)" font-size="9.3" fill="#111" stroke="#111" stroke-width="0.15" >0wk</text>
<text transform="translate(402.05,472.90) scale(0.9650,1)" font-size="9.3" fill="#111" stroke="#111" stroke-width="0.15" >2wks</text>
<text transform="translate(469.82,472.90) scale(0.9907,1)" font-size="9.3" fill="#111" stroke="#111" stroke-width="0.15" >4wks</text>
<text transform="translate(277.00,375.10) rotate(-90) scale(1.1237,1)" font-size="11.2" font-weight="bold" fill="#000" stroke="#000" stroke-width="0.2">CD8+ cells(%)</text>
<path d="M54.80,555.00 C55.35,553.27 57.23,547.18 58.10,544.60 C58.97,542.02 59.22,542.02 60.00,539.50 C60.78,536.98 61.97,532.17 62.80,529.50 C63.63,526.83 64.38,525.08 65.00,523.50 C65.62,521.92 65.88,519.58 66.55,520.00 C67.22,520.42 68.31,524.18 69.00,526.00 C69.69,527.82 70.30,529.52 70.70,530.90 C71.10,532.28 70.95,531.20 71.40,534.30 C71.85,537.40 72.83,544.67 73.40,549.50 C73.97,554.33 74.38,559.28 74.80,563.30 C75.22,567.32 75.37,569.60 75.90,573.60 C76.43,577.60 77.37,582.13 78.00,587.30 C78.63,592.47 79.07,599.85 79.70,604.60 C80.33,609.35 81.02,612.48 81.80,615.80 C82.58,619.12 83.82,622.60 84.40,624.50 C84.98,626.40 85.15,626.75 85.30,627.20" fill="none" stroke="#111" stroke-width="1.15"/>
<path d="M54.80,592.00 C55.05,591.80 55.75,591.87 56.30,590.80 C56.85,589.73 57.45,587.62 58.10,585.60 C58.75,583.58 59.48,581.30 60.20,578.70 C60.92,576.10 61.75,572.57 62.40,570.00 C63.05,567.43 63.35,566.03 64.10,563.30 C64.85,560.57 66.08,556.70 66.90,553.60 C67.72,550.50 68.25,548.03 69.00,544.70 C69.75,541.37 70.77,536.25 71.40,533.60 C72.03,530.95 72.28,530.47 72.80,528.80 C73.32,527.13 73.93,524.85 74.50,523.60 C75.07,522.35 75.68,521.78 76.20,521.30 C76.72,520.82 77.17,520.28 77.60,520.70 C78.03,521.12 78.37,521.92 78.80,523.80 C79.23,525.68 79.65,528.87 80.20,532.00 C80.75,535.13 81.50,539.12 82.10,542.60 C82.70,546.08 83.23,549.45 83.80,552.90 C84.37,556.35 84.93,559.85 85.50,563.30 C86.07,566.75 86.43,570.03 87.20,573.60 C87.97,577.17 89.05,581.55 90.10,584.70 C91.15,587.85 92.35,590.48 93.50,592.50 C94.65,594.52 95.78,595.87 97.00,596.80 C98.22,597.73 99.60,597.93 100.80,598.10 C102.00,598.27 103.05,597.52 104.20,597.80 C105.35,598.08 106.73,599.18 107.70,599.80 C108.67,600.42 108.88,600.63 110.00,601.50 C111.12,602.37 112.32,603.97 114.40,605.00 C116.48,606.03 120.70,606.92 122.50,607.70 C124.30,608.48 123.97,608.47 125.20,609.70 C126.43,610.93 128.45,613.53 129.90,615.10 C131.35,616.67 132.22,617.98 133.90,619.10 C135.58,620.22 138.08,620.90 140.00,621.80 C141.92,622.70 143.60,623.72 145.40,624.50 C147.20,625.28 148.57,626.05 150.80,626.50 C153.03,626.95 155.85,627.03 158.80,627.20 C161.75,627.37 166.88,627.45 168.50,627.50 L168.5,627.8 L54.8,627.8 Z" fill="#363636" fill-opacity="0.85" stroke="#3a3a3a" stroke-width="0.5"/>
<rect x="54.8" y="514.0" width="113.7" height="113.79999999999995" fill="none" stroke="#222" stroke-width="1.1"/>
<line x1="49.80" y1="627.80" x2="54.80" y2="627.80" stroke="#333" stroke-width="0.8"/>
<text transform="translate(46.09,629.80) scale(1.0000,1)" font-size="5.6" fill="#666" stroke="#666" stroke-width="0.1" >0</text>
<line x1="52.40" y1="623.44" x2="54.80" y2="623.44" stroke="#333" stroke-width="0.6"/>
<line x1="52.40" y1="619.08" x2="54.80" y2="619.08" stroke="#333" stroke-width="0.6"/>
<line x1="52.40" y1="614.72" x2="54.80" y2="614.72" stroke="#333" stroke-width="0.6"/>
<line x1="52.40" y1="610.36" x2="54.80" y2="610.36" stroke="#333" stroke-width="0.6"/>
<line x1="49.80" y1="606.00" x2="54.80" y2="606.00" stroke="#333" stroke-width="0.8"/>
<text transform="translate(42.98,608.00) scale(1.0000,1)" font-size="5.6" fill="#666" stroke="#666" stroke-width="0.1" >20</text>
<line x1="52.40" y1="601.64" x2="54.80" y2="601.64" stroke="#333" stroke-width="0.6"/>
<line x1="52.40" y1="597.28" x2="54.80" y2="597.28" stroke="#333" stroke-width="0.6"/>
<line x1="52.40" y1="592.92" x2="54.80" y2="592.92" stroke="#333" stroke-width="0.6"/>
<line x1="52.40" y1="588.56" x2="54.80" y2="588.56" stroke="#333" stroke-width="0.6"/>
<line x1="49.80" y1="584.20" x2="54.80" y2="584.20" stroke="#333" stroke-width="0.8"/>
<text transform="translate(42.98,586.20) scale(1.0000,1)" font-size="5.6" fill="#666" stroke="#666" stroke-width="0.1" >40</text>
<line x1="52.40" y1="579.84" x2="54.80" y2="579.84" stroke="#333" stroke-width="0.6"/>
<line x1="52.40" y1="575.48" x2="54.80" y2="575.48" stroke="#333" stroke-width="0.6"/>
<line x1="52.40" y1="571.12" x2="54.80" y2="571.12" stroke="#333" stroke-width="0.6"/>
<line x1="52.40" y1="566.76" x2="54.80" y2="566.76" stroke="#333" stroke-width="0.6"/>
<line x1="49.80" y1="562.40" x2="54.80" y2="562.40" stroke="#333" stroke-width="0.8"/>
<text transform="translate(42.98,564.40) scale(1.0000,1)" font-size="5.6" fill="#666" stroke="#666" stroke-width="0.1" >60</text>
<line x1="52.40" y1="558.04" x2="54.80" y2="558.04" stroke="#333" stroke-width="0.6"/>
<line x1="52.40" y1="553.68" x2="54.80" y2="553.68" stroke="#333" stroke-width="0.6"/>
<line x1="52.40" y1="549.32" x2="54.80" y2="549.32" stroke="#333" stroke-width="0.6"/>
<line x1="52.40" y1="544.96" x2="54.80" y2="544.96" stroke="#333" stroke-width="0.6"/>
<line x1="49.80" y1="540.60" x2="54.80" y2="540.60" stroke="#333" stroke-width="0.8"/>
<text transform="translate(42.98,542.60) scale(1.0000,1)" font-size="5.6" fill="#666" stroke="#666" stroke-width="0.1" >80</text>
<line x1="52.40" y1="536.24" x2="54.80" y2="536.24" stroke="#333" stroke-width="0.6"/>
<line x1="52.40" y1="531.88" x2="54.80" y2="531.88" stroke="#333" stroke-width="0.6"/>
<line x1="52.40" y1="527.52" x2="54.80" y2="527.52" stroke="#333" stroke-width="0.6"/>
<line x1="52.40" y1="523.16" x2="54.80" y2="523.16" stroke="#333" stroke-width="0.6"/>
<line x1="49.80" y1="518.80" x2="54.80" y2="518.80" stroke="#333" stroke-width="0.8"/>
<text transform="translate(39.87,520.80) scale(1.0000,1)" font-size="5.6" fill="#666" stroke="#666" stroke-width="0.1" >100</text>
<line x1="54.80" y1="627.80" x2="54.80" y2="630.40" stroke="#333" stroke-width="0.8"/>
<text transform="translate(50.90,639.30) scale(0.9138,1)" font-size="5.8" fill="#666" stroke="#666" stroke-width="0.1" >10</text>
<text transform="translate(56.79,636.70) scale(0.7732,1)" font-size="4.0" fill="#666" stroke="#666" stroke-width="0.05" >0</text>
<line x1="63.36" y1="627.80" x2="63.36" y2="629.30" stroke="#333" stroke-width="0.6"/>
<line x1="68.36" y1="627.80" x2="68.36" y2="629.30" stroke="#333" stroke-width="0.6"/>
<line x1="71.91" y1="627.80" x2="71.91" y2="629.30" stroke="#333" stroke-width="0.6"/>
<line x1="74.67" y1="627.80" x2="74.67" y2="629.30" stroke="#333" stroke-width="0.6"/>
<line x1="76.92" y1="627.80" x2="76.92" y2="629.30" stroke="#333" stroke-width="0.6"/>
<line x1="78.82" y1="627.80" x2="78.82" y2="629.30" stroke="#333" stroke-width="0.6"/>
<line x1="80.47" y1="627.80" x2="80.47" y2="629.30" stroke="#333" stroke-width="0.6"/>
<line x1="81.92" y1="627.80" x2="81.92" y2="629.30" stroke="#333" stroke-width="0.6"/>
<line x1="83.22" y1="627.80" x2="83.22" y2="630.40" stroke="#333" stroke-width="0.8"/>
<text transform="translate(79.33,639.30) scale(0.9138,1)" font-size="5.8" fill="#666" stroke="#666" stroke-width="0.1" >10</text>
<text transform="translate(85.07,636.70) scale(0.8621,1)" font-size="4.0" fill="#666" stroke="#666" stroke-width="0.05" >1</text>
<line x1="91.78" y1="627.80" x2="91.78" y2="629.30" stroke="#333" stroke-width="0.6"/>
<line x1="96.79" y1="627.80" x2="96.79" y2="629.30" stroke="#333" stroke-width="0.6"/>
<line x1="100.34" y1="627.80" x2="100.34" y2="629.30" stroke="#333" stroke-width="0.6"/>
<line x1="103.09" y1="627.80" x2="103.09" y2="629.30" stroke="#333" stroke-width="0.6"/>
<line x1="105.34" y1="627.80" x2="105.34" y2="629.30" stroke="#333" stroke-width="0.6"/>
<line x1="107.25" y1="627.80" x2="107.25" y2="629.30" stroke="#333" stroke-width="0.6"/>
<line x1="108.90" y1="627.80" x2="108.90" y2="629.30" stroke="#333" stroke-width="0.6"/>
<line x1="110.35" y1="627.80" x2="110.35" y2="629.30" stroke="#333" stroke-width="0.6"/>
<line x1="111.65" y1="627.80" x2="111.65" y2="630.40" stroke="#333" stroke-width="0.8"/>
<text transform="translate(107.75,639.30) scale(0.9138,1)" font-size="5.8" fill="#666" stroke="#666" stroke-width="0.1" >10</text>
<text transform="translate(113.59,636.70) scale(0.8152,1)" font-size="4.0" fill="#666" stroke="#666" stroke-width="0.05" >2</text>
<line x1="120.21" y1="627.80" x2="120.21" y2="629.30" stroke="#333" stroke-width="0.6"/>
<line x1="125.21" y1="627.80" x2="125.21" y2="629.30" stroke="#333" stroke-width="0.6"/>
<line x1="128.76" y1="627.80" x2="128.76" y2="629.30" stroke="#333" stroke-width="0.6"/>
<line x1="131.52" y1="627.80" x2="131.52" y2="629.30" stroke="#333" stroke-width="0.6"/>
<line x1="133.77" y1="627.80" x2="133.77" y2="629.30" stroke="#333" stroke-width="0.6"/>
<line x1="135.67" y1="627.80" x2="135.67" y2="629.30" stroke="#333" stroke-width="0.6"/>
<line x1="137.32" y1="627.80" x2="137.32" y2="629.30" stroke="#333" stroke-width="0.6"/>
<line x1="138.77" y1="627.80" x2="138.77" y2="629.30" stroke="#333" stroke-width="0.6"/>
<line x1="140.07" y1="627.80" x2="140.07" y2="630.40" stroke="#333" stroke-width="0.8"/>
<text transform="translate(136.18,639.30) scale(0.9138,1)" font-size="5.8" fill="#666" stroke="#666" stroke-width="0.1" >10</text>
<text transform="translate(142.07,636.70) scale(0.7812,1)" font-size="4.0" fill="#666" stroke="#666" stroke-width="0.05" >3</text>
<line x1="148.63" y1="627.80" x2="148.63" y2="629.30" stroke="#333" stroke-width="0.6"/>
<line x1="153.64" y1="627.80" x2="153.64" y2="629.30" stroke="#333" stroke-width="0.6"/>
<line x1="157.19" y1="627.80" x2="157.19" y2="629.30" stroke="#333" stroke-width="0.6"/>
<line x1="159.94" y1="627.80" x2="159.94" y2="629.30" stroke="#333" stroke-width="0.6"/>
<line x1="162.19" y1="627.80" x2="162.19" y2="629.30" stroke="#333" stroke-width="0.6"/>
<line x1="164.10" y1="627.80" x2="164.10" y2="629.30" stroke="#333" stroke-width="0.6"/>
<line x1="165.75" y1="627.80" x2="165.75" y2="629.30" stroke="#333" stroke-width="0.6"/>
<line x1="167.20" y1="627.80" x2="167.20" y2="629.30" stroke="#333" stroke-width="0.6"/>
<line x1="168.50" y1="627.80" x2="168.50" y2="630.40" stroke="#333" stroke-width="0.8"/>
<text transform="translate(164.60,639.30) scale(0.9138,1)" font-size="5.8" fill="#666" stroke="#666" stroke-width="0.1" >10</text>
<text transform="translate(170.54,636.70) scale(0.7353,1)" font-size="4.0" fill="#666" stroke="#666" stroke-width="0.05" >4</text>
<text transform="translate(46.95,512.40) scale(1.0432,1)" font-size="10.6" fill="#111" stroke="#111" stroke-width="0.15" >Cre(-)</text>
<text transform="translate(88.17,554.40) scale(1.0033,1)" font-size="10.6" fill="#111" stroke="#111" stroke-width="0.15" >Cre(+)</text>
<text transform="translate(37.60,584.23) rotate(-90) scale(1.1207,1)" font-size="11.2" fill="#111" stroke="#111" stroke-width="0.2">Cell number</text>
<line x1="34.50" y1="622.20" x2="34.50" y2="594.00" stroke="#000" stroke-width="1.4"/>
<path d="M31.0,597.2 L34.5,590.3 L38.0,597.2 Z" fill="#000"/>
<line x1="118.80" y1="646.80" x2="145.00" y2="646.80" stroke="#000" stroke-width="1.4"/>
<path d="M143.5,643.2 L151,646.8 L143.5,650.4 Z" fill="#000"/>
<text transform="translate(151.85,651.30) scale(1.0900,1)" font-size="12" fill="#111" stroke="#111" stroke-width="0.15" >C3</text>
<path d="M279.10,611.60 C280.48,610.35 285.03,607.58 287.40,604.10 C289.77,600.62 291.57,596.43 293.30,590.70 C295.03,584.97 296.68,575.65 297.80,569.70 C298.92,563.75 299.37,559.95 300.00,555.00 C300.63,550.05 301.00,545.33 301.60,540.00 C302.20,534.67 302.78,527.03 303.60,523.00 C304.42,518.97 305.62,517.43 306.50,515.80 C307.38,514.17 308.07,512.97 308.90,513.20 C309.73,513.43 310.58,515.68 311.50,517.20 C312.42,518.72 313.45,521.22 314.40,522.30 C315.35,523.38 316.25,523.95 317.20,523.70 C318.15,523.45 319.13,522.23 320.10,520.80 C321.07,519.37 322.03,516.53 323.00,515.10 C323.97,513.67 325.07,512.08 325.90,512.20 C326.73,512.32 327.40,513.05 328.00,515.80 C328.60,518.55 329.02,524.15 329.50,528.70 C329.98,533.25 330.43,538.30 330.90,543.10 C331.37,547.90 331.70,552.72 332.30,557.50 C332.90,562.28 333.78,567.50 334.50,571.80 C335.22,576.10 335.77,579.47 336.60,583.30 C337.43,587.13 338.42,591.20 339.50,594.80 C340.58,598.40 341.78,602.02 343.10,604.90 C344.42,607.78 345.97,610.18 347.40,612.10 C348.83,614.02 350.02,615.48 351.70,616.40 C353.38,617.32 354.45,617.37 357.50,617.60 C360.55,617.83 366.25,617.93 370.00,617.80 C373.75,617.67 377.33,617.18 380.00,616.80 C382.67,616.42 384.17,615.47 386.00,615.50 C387.83,615.53 390.17,616.75 391.00,617.00" fill="none" stroke="#111" stroke-width="1.15"/>
<path d="M279.10,616.50 C280.73,616.18 286.03,615.92 288.90,614.60 C291.77,613.28 294.45,610.47 296.30,608.60 C298.15,606.73 299.00,605.08 300.00,603.40 C301.00,601.72 301.58,600.40 302.30,598.50 C303.02,596.60 303.48,594.77 304.30,592.00 C305.12,589.23 306.23,584.18 307.20,581.90 C308.17,579.62 309.03,578.78 310.10,578.30 C311.17,577.82 312.42,578.28 313.60,579.00 C314.78,579.72 315.87,581.52 317.20,582.60 C318.53,583.68 320.15,584.67 321.60,585.50 C323.05,586.33 324.47,586.05 325.90,587.60 C327.33,589.15 328.77,592.40 330.20,594.80 C331.63,597.20 333.07,600.08 334.50,602.00 C335.93,603.92 337.37,605.22 338.80,606.30 C340.23,607.38 341.42,607.78 343.10,608.50 C344.78,609.22 347.22,610.55 348.90,610.60 C350.58,610.65 351.77,610.00 353.20,608.80 C354.63,607.60 356.28,605.12 357.50,603.40 C358.72,601.68 359.72,600.40 360.50,598.50 C361.28,596.60 361.32,595.25 362.20,592.00 C363.08,588.75 364.72,583.55 365.80,579.00 C366.88,574.45 367.73,569.48 368.70,564.70 C369.67,559.92 370.53,553.90 371.60,550.30 C372.67,546.70 374.03,545.73 375.10,543.10 C376.17,540.47 377.15,537.85 378.00,534.50 C378.85,531.15 379.55,526.35 380.20,523.00 C380.85,519.65 381.43,516.13 381.90,514.40 C382.37,512.67 382.57,511.88 383.00,512.60 C383.43,513.32 384.02,513.62 384.50,518.70 C384.98,523.78 385.42,534.25 385.90,543.10 C386.38,551.95 386.92,563.65 387.40,571.80 C387.88,579.95 388.37,587.68 388.80,592.00 C389.23,596.32 389.63,598.03 390.00,597.70 C390.37,597.37 390.83,591.28 391.00,590.00 L391.0,619.2 L279.1,619.2 Z" fill="#363636" fill-opacity="0.85" stroke="#3a3a3a" stroke-width="0.5"/>
<rect x="279.1" y="509.8" width="111.89999999999998" height="109.40000000000003" fill="none" stroke="#222" stroke-width="1.1"/>
<line x1="274.10" y1="619.20" x2="279.10" y2="619.20" stroke="#333" stroke-width="0.8"/>
<text transform="translate(270.39,621.20) scale(1.0000,1)" font-size="5.6" fill="#666" stroke="#666" stroke-width="0.1" >0</text>
<line x1="276.70" y1="613.82" x2="279.10" y2="613.82" stroke="#333" stroke-width="0.6"/>
<line x1="276.70" y1="608.44" x2="279.10" y2="608.44" stroke="#333" stroke-width="0.6"/>
<line x1="276.70" y1="603.06" x2="279.10" y2="603.06" stroke="#333" stroke-width="0.6"/>
<line x1="274.10" y1="597.68" x2="279.10" y2="597.68" stroke="#333" stroke-width="0.8"/>
<text transform="translate(267.28,599.68) scale(1.0000,1)" font-size="5.6" fill="#666" stroke="#666" stroke-width="0.1" >20</text>
<line x1="276.70" y1="592.30" x2="279.10" y2="592.30" stroke="#333" stroke-width="0.6"/>
<line x1="276.70" y1="586.92" x2="279.10" y2="586.92" stroke="#333" stroke-width="0.6"/>
<line x1="276.70" y1="581.54" x2="279.10" y2="581.54" stroke="#333" stroke-width="0.6"/>
<line x1="274.10" y1="576.16" x2="279.10" y2="576.16" stroke="#333" stroke-width="0.8"/>
<text transform="translate(267.28,578.16) scale(1.0000,1)" font-size="5.6" fill="#666" stroke="#666" stroke-width="0.1" >40</text>
<line x1="276.70" y1="570.78" x2="279.10" y2="570.78" stroke="#333" stroke-width="0.6"/>
<line x1="276.70" y1="565.40" x2="279.10" y2="565.40" stroke="#333" stroke-width="0.6"/>
<line x1="276.70" y1="560.02" x2="279.10" y2="560.02" stroke="#333" stroke-width="0.6"/>
<line x1="274.10" y1="554.64" x2="279.10" y2="554.64" stroke="#333" stroke-width="0.8"/>
<text transform="translate(267.28,556.64) scale(1.0000,1)" font-size="5.6" fill="#666" stroke="#666" stroke-width="0.1" >60</text>
<line x1="276.70" y1="549.26" x2="279.10" y2="549.26" stroke="#333" stroke-width="0.6"/>
<line x1="276.70" y1="543.88" x2="279.10" y2="543.88" stroke="#333" stroke-width="0.6"/>
<line x1="276.70" y1="538.50" x2="279.10" y2="538.50" stroke="#333" stroke-width="0.6"/>
<line x1="274.10" y1="533.12" x2="279.10" y2="533.12" stroke="#333" stroke-width="0.8"/>
<text transform="translate(267.28,535.12) scale(1.0000,1)" font-size="5.6" fill="#666" stroke="#666" stroke-width="0.1" >80</text>
<line x1="276.70" y1="527.74" x2="279.10" y2="527.74" stroke="#333" stroke-width="0.6"/>
<line x1="276.70" y1="522.36" x2="279.10" y2="522.36" stroke="#333" stroke-width="0.6"/>
<line x1="276.70" y1="516.98" x2="279.10" y2="516.98" stroke="#333" stroke-width="0.6"/>
<line x1="274.10" y1="511.60" x2="279.10" y2="511.60" stroke="#333" stroke-width="0.8"/>
<text transform="translate(264.17,513.60) scale(1.0000,1)" font-size="5.6" fill="#666" stroke="#666" stroke-width="0.1" >100</text>
<line x1="279.10" y1="619.20" x2="279.10" y2="621.80" stroke="#333" stroke-width="0.8"/>
<text transform="translate(275.20,631.00) scale(0.9138,1)" font-size="5.8" fill="#666" stroke="#666" stroke-width="0.1" >10</text>
<text transform="translate(281.09,628.40) scale(0.7732,1)" font-size="4.0" fill="#666" stroke="#666" stroke-width="0.05" >0</text>
<line x1="287.52" y1="619.20" x2="287.52" y2="620.70" stroke="#333" stroke-width="0.6"/>
<line x1="292.45" y1="619.20" x2="292.45" y2="620.70" stroke="#333" stroke-width="0.6"/>
<line x1="295.94" y1="619.20" x2="295.94" y2="620.70" stroke="#333" stroke-width="0.6"/>
<line x1="298.65" y1="619.20" x2="298.65" y2="620.70" stroke="#333" stroke-width="0.6"/>
<line x1="300.87" y1="619.20" x2="300.87" y2="620.70" stroke="#333" stroke-width="0.6"/>
<line x1="302.74" y1="619.20" x2="302.74" y2="620.70" stroke="#333" stroke-width="0.6"/>
<line x1="304.36" y1="619.20" x2="304.36" y2="620.70" stroke="#333" stroke-width="0.6"/>
<line x1="305.79" y1="619.20" x2="305.79" y2="620.70" stroke="#333" stroke-width="0.6"/>
<line x1="307.08" y1="619.20" x2="307.08" y2="621.80" stroke="#333" stroke-width="0.8"/>
<text transform="translate(303.18,631.00) scale(0.9138,1)" font-size="5.8" fill="#666" stroke="#666" stroke-width="0.1" >10</text>
<text transform="translate(308.92,628.40) scale(0.8621,1)" font-size="4.0" fill="#666" stroke="#666" stroke-width="0.05" >1</text>
<line x1="315.50" y1="619.20" x2="315.50" y2="620.70" stroke="#333" stroke-width="0.6"/>
<line x1="320.42" y1="619.20" x2="320.42" y2="620.70" stroke="#333" stroke-width="0.6"/>
<line x1="323.92" y1="619.20" x2="323.92" y2="620.70" stroke="#333" stroke-width="0.6"/>
<line x1="326.63" y1="619.20" x2="326.63" y2="620.70" stroke="#333" stroke-width="0.6"/>
<line x1="328.84" y1="619.20" x2="328.84" y2="620.70" stroke="#333" stroke-width="0.6"/>
<line x1="330.72" y1="619.20" x2="330.72" y2="620.70" stroke="#333" stroke-width="0.6"/>
<line x1="332.34" y1="619.20" x2="332.34" y2="620.70" stroke="#333" stroke-width="0.6"/>
<line x1="333.77" y1="619.20" x2="333.77" y2="620.70" stroke="#333" stroke-width="0.6"/>
<line x1="335.05" y1="619.20" x2="335.05" y2="621.80" stroke="#333" stroke-width="0.8"/>
<text transform="translate(331.15,631.00) scale(0.9138,1)" font-size="5.8" fill="#666" stroke="#666" stroke-width="0.1" >10</text>
<text transform="translate(336.99,628.40) scale(0.8152,1)" font-size="4.0" fill="#666" stroke="#666" stroke-width="0.05" >2</text>
<line x1="343.47" y1="619.20" x2="343.47" y2="620.70" stroke="#333" stroke-width="0.6"/>
<line x1="348.40" y1="619.20" x2="348.40" y2="620.70" stroke="#333" stroke-width="0.6"/>
<line x1="351.89" y1="619.20" x2="351.89" y2="620.70" stroke="#333" stroke-width="0.6"/>
<line x1="354.60" y1="619.20" x2="354.60" y2="620.70" stroke="#333" stroke-width="0.6"/>
<line x1="356.82" y1="619.20" x2="356.82" y2="620.70" stroke="#333" stroke-width="0.6"/>
<line x1="358.69" y1="619.20" x2="358.69" y2="620.70" stroke="#333" stroke-width="0.6"/>
<line x1="360.31" y1="619.20" x2="360.31" y2="620.70" stroke="#333" stroke-width="0.6"/>
<line x1="361.74" y1="619.20" x2="361.74" y2="620.70" stroke="#333" stroke-width="0.6"/>
<line x1="363.02" y1="619.20" x2="363.02" y2="621.80" stroke="#333" stroke-width="0.8"/>
<text transform="translate(359.13,631.00) scale(0.9138,1)" font-size="5.8" fill="#666" stroke="#666" stroke-width="0.1" >10</text>
<text transform="translate(365.02,628.40) scale(0.7812,1)" font-size="4.0" fill="#666" stroke="#666" stroke-width="0.05" >3</text>
<line x1="371.45" y1="619.20" x2="371.45" y2="620.70" stroke="#333" stroke-width="0.6"/>
<line x1="376.37" y1="619.20" x2="376.37" y2="620.70" stroke="#333" stroke-width="0.6"/>
<line x1="379.87" y1="619.20" x2="379.87" y2="620.70" stroke="#333" stroke-width="0.6"/>
<line x1="382.58" y1="619.20" x2="382.58" y2="620.70" stroke="#333" stroke-width="0.6"/>
<line x1="384.79" y1="619.20" x2="384.79" y2="620.70" stroke="#333" stroke-width="0.6"/>
<line x1="386.67" y1="619.20" x2="386.67" y2="620.70" stroke="#333" stroke-width="0.6"/>
<line x1="388.29" y1="619.20" x2="388.29" y2="620.70" stroke="#333" stroke-width="0.6"/>
<line x1="389.72" y1="619.20" x2="389.72" y2="620.70" stroke="#333" stroke-width="0.6"/>
<line x1="391.00" y1="619.20" x2="391.00" y2="621.80" stroke="#333" stroke-width="0.8"/>
<text transform="translate(387.10,631.00) scale(0.9138,1)" font-size="5.8" fill="#666" stroke="#666" stroke-width="0.1" >10</text>
<text transform="translate(393.04,628.40) scale(0.7353,1)" font-size="4.0" fill="#666" stroke="#666" stroke-width="0.05" >4</text>
<text transform="translate(279.36,508.40) scale(1.0326,1)" font-size="10.4" fill="#111" stroke="#111" stroke-width="0.15" >Cre(-)</text>
<text transform="translate(344.66,523.00) scale(1.0239,1)" font-size="10.6" fill="#111" stroke="#111" stroke-width="0.15" >Cre(+)</text>
<text transform="translate(262.40,575.63) rotate(-90) scale(1.1274,1)" font-size="11.2" fill="#111" stroke="#111" stroke-width="0.2">Cell number</text>
<line x1="259.00" y1="613.10" x2="259.00" y2="586.00" stroke="#000" stroke-width="1.4"/>
<path d="M255.5,589.2 L259.0,582.3 L262.5,589.2 Z" fill="#000"/>
<line x1="342.90" y1="638.70" x2="368.00" y2="638.70" stroke="#000" stroke-width="1.4"/>
<path d="M366.5,635.1 L374,638.7 L366.5,642.3 Z" fill="#000"/>
<text transform="translate(374.81,643.00) scale(1.1533,1)" font-size="12" fill="#111" stroke="#111" stroke-width="0.15" >C3</text>
<line x1="35.00" y1="808.00" x2="35.00" y2="664.40" stroke="#000" stroke-width="1.5"/>
<line x1="31.40" y1="807.40" x2="35.00" y2="807.40" stroke="#000" stroke-width="1.3"/>
<text transform="translate(16.14,811.30) scale(1.0000,1)" font-size="10.6" fill="#444" stroke="#444" stroke-width="0.1" >0.0</text>
<line x1="31.40" y1="794.40" x2="35.00" y2="794.40" stroke="#000" stroke-width="1.3"/>
<text transform="translate(16.24,798.30) scale(1.0000,1)" font-size="10.6" fill="#444" stroke="#444" stroke-width="0.1" >0.1</text>
<line x1="31.40" y1="781.40" x2="35.00" y2="781.40" stroke="#000" stroke-width="1.3"/>
<text transform="translate(16.24,785.30) scale(1.0000,1)" font-size="10.6" fill="#444" stroke="#444" stroke-width="0.1" >0.2</text>
<line x1="31.40" y1="768.40" x2="35.00" y2="768.40" stroke="#000" stroke-width="1.3"/>
<text transform="translate(16.19,772.30) scale(1.0000,1)" font-size="10.6" fill="#444" stroke="#444" stroke-width="0.1" >0.3</text>
<line x1="31.40" y1="755.40" x2="35.00" y2="755.40" stroke="#000" stroke-width="1.3"/>
<text transform="translate(16.03,759.30) scale(1.0000,1)" font-size="10.6" fill="#444" stroke="#444" stroke-width="0.1" >0.4</text>
<line x1="31.40" y1="742.40" x2="35.00" y2="742.40" stroke="#000" stroke-width="1.3"/>
<text transform="translate(16.19,746.30) scale(1.0000,1)" font-size="10.6" fill="#444" stroke="#444" stroke-width="0.1" >0.5</text>
<line x1="31.40" y1="729.40" x2="35.00" y2="729.40" stroke="#000" stroke-width="1.3"/>
<text transform="translate(16.19,733.30) scale(1.0000,1)" font-size="10.6" fill="#444" stroke="#444" stroke-width="0.1" >0.6</text>
<line x1="31.40" y1="716.40" x2="35.00" y2="716.40" stroke="#000" stroke-width="1.3"/>
<text transform="translate(16.24,720.30) scale(1.0000,1)" font-size="10.6" fill="#444" stroke="#444" stroke-width="0.1" >0.7</text>
<line x1="31.40" y1="703.40" x2="35.00" y2="703.40" stroke="#000" stroke-width="1.3"/>
<text transform="translate(16.19,707.30) scale(1.0000,1)" font-size="10.6" fill="#444" stroke="#444" stroke-width="0.1" >0.8</text>
<line x1="31.40" y1="690.40" x2="35.00" y2="690.40" stroke="#000" stroke-width="1.3"/>
<text transform="translate(16.24,694.30) scale(1.0000,1)" font-size="10.6" fill="#444" stroke="#444" stroke-width="0.1" >0.9</text>
<line x1="31.40" y1="677.40" x2="35.00" y2="677.40" stroke="#000" stroke-width="1.3"/>
<text transform="translate(16.14,681.30) scale(1.0000,1)" font-size="10.6" fill="#444" stroke="#444" stroke-width="0.1" >1.0</text>
<line x1="31.40" y1="664.40" x2="35.00" y2="664.40" stroke="#000" stroke-width="1.3"/>
<text transform="translate(16.24,668.30) scale(1.0000,1)" font-size="10.6" fill="#444" stroke="#444" stroke-width="0.1" >1.1</text>
<line x1="34.40" y1="807.40" x2="224.50" y2="807.40" stroke="#000" stroke-width="1.5"/>
<rect x="44.80" y="677.90" width="19.90" height="129.50" fill="#cecece" stroke="#000" stroke-width="1.4"/>
<line x1="84.65" y1="796.60" x2="84.65" y2="793.80" stroke="#000" stroke-width="1.4"/>
<line x1="79.55" y1="793.80" x2="89.75" y2="793.80" stroke="#000" stroke-width="1.4"/>
<rect x="74.60" y="796.60" width="20.10" height="10.80" fill="#cecece" stroke="#000" stroke-width="1.4"/>
<line x1="114.50" y1="679.80" x2="114.50" y2="676.70" stroke="#000" stroke-width="1.4"/>
<line x1="109.40" y1="676.70" x2="119.60" y2="676.70" stroke="#000" stroke-width="1.4"/>
<rect x="104.50" y="679.80" width="20.00" height="127.60" fill="#cecece" stroke="#000" stroke-width="1.4"/>
<line x1="144.25" y1="789.90" x2="144.25" y2="786.90" stroke="#000" stroke-width="1.4"/>
<line x1="139.15" y1="786.90" x2="149.35" y2="786.90" stroke="#000" stroke-width="1.4"/>
<rect x="134.50" y="789.90" width="19.50" height="17.50" fill="#cecece" stroke="#000" stroke-width="1.4"/>
<line x1="173.90" y1="794.50" x2="173.90" y2="789.90" stroke="#000" stroke-width="1.4"/>
<line x1="168.80" y1="789.90" x2="179.00" y2="789.90" stroke="#000" stroke-width="1.4"/>
<rect x="164.00" y="794.50" width="19.80" height="12.90" fill="#cecece" stroke="#000" stroke-width="1.4"/>
<line x1="203.65" y1="750.60" x2="203.65" y2="746.70" stroke="#000" stroke-width="1.4"/>
<line x1="198.55" y1="746.70" x2="208.75" y2="746.70" stroke="#000" stroke-width="1.4"/>
<rect x="193.60" y="750.60" width="20.10" height="56.80" fill="#cecece" stroke="#000" stroke-width="1.4"/>
<text transform="translate(10.60,791.46) rotate(-90) scale(1.0852,1)" font-size="10.6" font-weight="bold" fill="#000" stroke="#000" stroke-width="0.2">Cre+ / Cre- (thymocyte)</text>
<path d="M176.7,735.2 V729.4 H205.8 V735.2" fill="none" stroke="#111" stroke-width="1.3"/>
<path d="M191.60,723.80 L191.60,721.40 M191.60,723.80 L193.88,723.06 M191.60,723.80 L193.01,725.74 M191.60,723.80 L190.19,725.74 M191.60,723.80 L189.32,723.06 " stroke="#000" stroke-width="1.1" fill="none" stroke-linecap="round"/>
<text transform="translate(42.07,823.50) scale(1.0421,1)" font-size="11.2" fill="#111" stroke="#111" stroke-width="0.1" >Pre-</text>
<text transform="translate(30.71,836.90) scale(1.0814,1)" font-size="11.2" fill="#111" stroke="#111" stroke-width="0.1" >Injection</text>
<text transform="translate(75.70,823.50) scale(0.9714,1)" font-size="11.2" fill="#111" stroke="#111" stroke-width="0.1" >WT</text>
<text transform="translate(105.71,823.50) scale(1.0624,1)" font-size="11.2" fill="#111" stroke="#111" stroke-width="0.1" >C3</text>
<text transform="translate(120.86,818.60) scale(1.3878,1)" font-size="6.2" fill="#111" stroke="#111" stroke-width="0.1" >-/-</text>
<text transform="translate(134.40,823.50) scale(1.0775,1)" font-size="11.2" fill="#111" stroke="#111" stroke-width="0.1" >C5</text>
<text transform="translate(149.67,818.60) scale(1.3128,1)" font-size="6.2" fill="#111" stroke="#111" stroke-width="0.1" >-/-</text>
<text transform="translate(166.30,823.50) scale(1.0528,1)" font-size="11.2" fill="#111" stroke="#111" stroke-width="0.1" >WT</text>
<text transform="translate(197.00,823.50) scale(1.0470,1)" font-size="11.2" fill="#111" stroke="#111" stroke-width="0.1" >WT</text>
<text transform="translate(172.10,837.00) scale(1.1600,1)" font-size="9.5" fill="#111" stroke="#111" stroke-width="0.1" >+</text>
<text transform="translate(202.59,837.00) scale(1.2030,1)" font-size="9.5" fill="#111" stroke="#111" stroke-width="0.1" >+</text>
<text transform="translate(161.51,852.00) scale(1.1098,1)" font-size="11.2" fill="#111" stroke="#111" stroke-width="0.1" >Lipo</text>
<text transform="translate(194.04,852.00) scale(1.0745,1)" font-size="11.2" fill="#111" stroke="#111" stroke-width="0.1" >Lipo</text>
<text transform="translate(159.33,864.50) scale(1.0014,1)" font-size="11.2" fill="#111" stroke="#111" stroke-width="0.1" >(PBS)</text>
<text transform="translate(188.23,864.50) scale(1.1482,1)" font-size="11.2" fill="#111" stroke="#111" stroke-width="0.1" >(Clod)</text>
<line x1="302.00" y1="799.50" x2="302.00" y2="656.45" stroke="#000" stroke-width="1.5"/>
<line x1="298.40" y1="798.90" x2="302.00" y2="798.90" stroke="#000" stroke-width="1.3"/>
<text transform="translate(283.04,802.80) scale(1.0000,1)" font-size="10.6" fill="#444" stroke="#444" stroke-width="0.1" >0.0</text>
<line x1="298.40" y1="785.95" x2="302.00" y2="785.95" stroke="#000" stroke-width="1.3"/>
<text transform="translate(283.14,789.85) scale(1.0000,1)" font-size="10.6" fill="#444" stroke="#444" stroke-width="0.1" >0.1</text>
<line x1="298.40" y1="773.00" x2="302.00" y2="773.00" stroke="#000" stroke-width="1.3"/>
<text transform="translate(283.14,776.90) scale(1.0000,1)" font-size="10.6" fill="#444" stroke="#444" stroke-width="0.1" >0.2</text>
<line x1="298.40" y1="760.05" x2="302.00" y2="760.05" stroke="#000" stroke-width="1.3"/>
<text transform="translate(283.09,763.95) scale(1.0000,1)" font-size="10.6" fill="#444" stroke="#444" stroke-width="0.1" >0.3</text>
<line x1="298.40" y1="747.10" x2="302.00" y2="747.10" stroke="#000" stroke-width="1.3"/>
<text transform="translate(282.93,751.00) scale(1.0000,1)" font-size="10.6" fill="#444" stroke="#444" stroke-width="0.1" >0.4</text>
<line x1="298.40" y1="734.15" x2="302.00" y2="734.15" stroke="#000" stroke-width="1.3"/>
<text transform="translate(283.09,738.05) scale(1.0000,1)" font-size="10.6" fill="#444" stroke="#444" stroke-width="0.1" >0.5</text>
<line x1="298.40" y1="721.20" x2="302.00" y2="721.20" stroke="#000" stroke-width="1.3"/>
<text transform="translate(283.09,725.10) scale(1.0000,1)" font-size="10.6" fill="#444" stroke="#444" stroke-width="0.1" >0.6</text>
<line x1="298.40" y1="708.25" x2="302.00" y2="708.25" stroke="#000" stroke-width="1.3"/>
<text transform="translate(283.14,712.15) scale(1.0000,1)" font-size="10.6" fill="#444" stroke="#444" stroke-width="0.1" >0.7</text>
<line x1="298.40" y1="695.30" x2="302.00" y2="695.30" stroke="#000" stroke-width="1.3"/>
<text transform="translate(283.09,699.20) scale(1.0000,1)" font-size="10.6" fill="#444" stroke="#444" stroke-width="0.1" >0.8</text>
<line x1="298.40" y1="682.35" x2="302.00" y2="682.35" stroke="#000" stroke-width="1.3"/>
<text transform="translate(283.14,686.25) scale(1.0000,1)" font-size="10.6" fill="#444" stroke="#444" stroke-width="0.1" >0.9</text>
<line x1="298.40" y1="669.40" x2="302.00" y2="669.40" stroke="#000" stroke-width="1.3"/>
<text transform="translate(283.04,673.30) scale(1.0000,1)" font-size="10.6" fill="#444" stroke="#444" stroke-width="0.1" >1.0</text>
<line x1="298.40" y1="656.45" x2="302.00" y2="656.45" stroke="#000" stroke-width="1.3"/>
<text transform="translate(283.14,660.35) scale(1.0000,1)" font-size="10.6" fill="#444" stroke="#444" stroke-width="0.1" >1.1</text>
<line x1="301.40" y1="798.90" x2="374.60" y2="798.90" stroke="#000" stroke-width="1.5"/>
<rect x="312.10" y="668.30" width="19.50" height="130.60" fill="#d2d2d2" stroke="#000" stroke-width="1.4"/>
<line x1="351.45" y1="714.50" x2="351.45" y2="711.90" stroke="#000" stroke-width="1.4"/>
<line x1="346.35" y1="711.90" x2="356.55" y2="711.90" stroke="#000" stroke-width="1.4"/>
<rect x="341.40" y="714.50" width="20.10" height="84.40" fill="#868686" stroke="#000" stroke-width="1.4"/>
<text transform="translate(278.20,787.98) rotate(-90) scale(1.1248,1)" font-size="10.6" font-weight="bold" fill="#000" stroke="#000" stroke-width="0.2">Cre+ / Cre- (thymocyte)</text>
<path d="M349.20,700.40 L349.20,698.00 M349.20,700.40 L351.48,699.66 M349.20,700.40 L350.61,702.34 M349.20,700.40 L347.79,702.34 M349.20,700.40 L346.92,699.66 " stroke="#000" stroke-width="1.1" fill="none" stroke-linecap="round"/>
<text transform="translate(310.39,815.20) scale(1.1230,1)" font-size="11.2" fill="#111" stroke="#111" stroke-width="0.1" >Pre-</text>
<text transform="translate(300.23,829.60) scale(1.0589,1)" font-size="11.2" fill="#111" stroke="#111" stroke-width="0.1" >Injection</text>
<text transform="translate(344.01,815.20) scale(1.0549,1)" font-size="11.2" fill="#111" stroke="#111" stroke-width="0.1" >C3</text>
<text transform="translate(359.06,810.30) scale(1.3878,1)" font-size="6.2" fill="#111" stroke="#111" stroke-width="0.1" >-/-</text>
</svg></body></html>
